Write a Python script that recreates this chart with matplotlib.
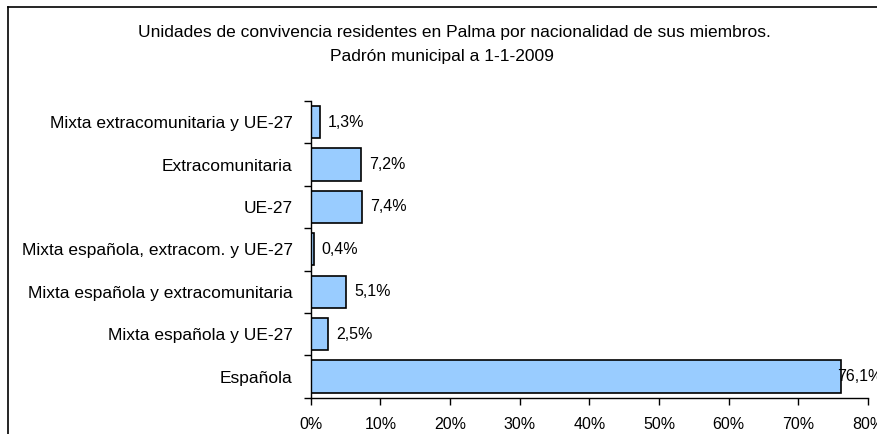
import numpy as np
import matplotlib
matplotlib.use("Agg")
import matplotlib.pyplot as plt
from matplotlib.lines import Line2D

plt.rcParams['font.family'] = ['Liberation Sans', 'DejaVu Sans']

# datos (de abajo arriba)
categorias = ["Española", "Mixta española y UE-27", "Mixta española y extracomunitaria",
              "Mixta española, extracom. y UE-27", "UE-27", "Extracomunitaria",
              "Mixta extracomunitaria y UE-27"]
porcentajes = [76.1, 2.5, 5.1, 0.4, 7.4, 7.2, 1.3]
etiquetas = ["76,1%", "2,5%", "5,1%", "0,4%", "7,4%", "7,2%", "1,3%"]
ticks_x = [0, 10, 20, 30, 40, 50, 60, 70, 80]
ticks_x_txt = ["0%", "10%", "20%", "30%", "40%", "50%", "60%", "70%", "80%"]

fig = plt.figure(figsize=(8.77, 4.34), dpi=100)
ax = fig.add_axes([0.3543, 0.0836, 0.6355, 0.6837])

y = np.arange(len(categorias))
ax.barh(y, porcentajes, height=0.76, color="#99CCFF", edgecolor="black", linewidth=1.2)

for yi, v, t in zip(y, porcentajes, etiquetas):
    if v > 70:
        ax.annotate(t, (v, yi), xytext=(-3, 0), textcoords="offset points",
                    ha="left", va="center", fontsize=11.5, annotation_clip=False)
    else:
        ax.annotate(t, (v, yi), xytext=(6, 0), textcoords="offset points",
                    ha="left", va="center", fontsize=11.5)

ax.set_xlim(0, 80)
ax.set_ylim(-0.5, len(categorias) - 0.5)
ax.set_xticks(ticks_x)
ax.set_xticklabels(ticks_x_txt, fontsize=11.5)
ax.set_yticks(y)
ax.set_yticklabels(categorias, fontsize=12.5)
ax.set_yticks(np.arange(len(categorias) + 1) - 0.5, minor=True)
ax.tick_params(axis="y", which="major", length=0, pad=13)
ax.tick_params(axis="y", which="minor", length=5, width=1, direction="out")
ax.tick_params(axis="x", length=5, width=1, direction="out", pad=9)

for s in ["top", "right"]:
    ax.spines[s].set_visible(False)
ax.spines["left"].set_linewidth(1)
ax.spines["bottom"].set_linewidth(1)

fig.text(0.518, 1 - 33 / 434, "Unidades de convivencia residentes en Palma por nacionalidad de sus miembros.",
         ha="center", va="center", fontsize=12.5)
fig.text(0.504, 1 - 56 / 434, "Padrón municipal a 1-1-2009", ha="center", va="center", fontsize=12.5)

# marco del grafico
fig.add_artist(Line2D([8 / 877, 1.0], [1 - 7 / 434, 1 - 7 / 434], color="black", lw=1.2))
fig.add_artist(Line2D([8 / 877, 8 / 877], [0, 1 - 7 / 434], color="black", lw=1.2))

fig.savefig("out.png", dpi=100)
